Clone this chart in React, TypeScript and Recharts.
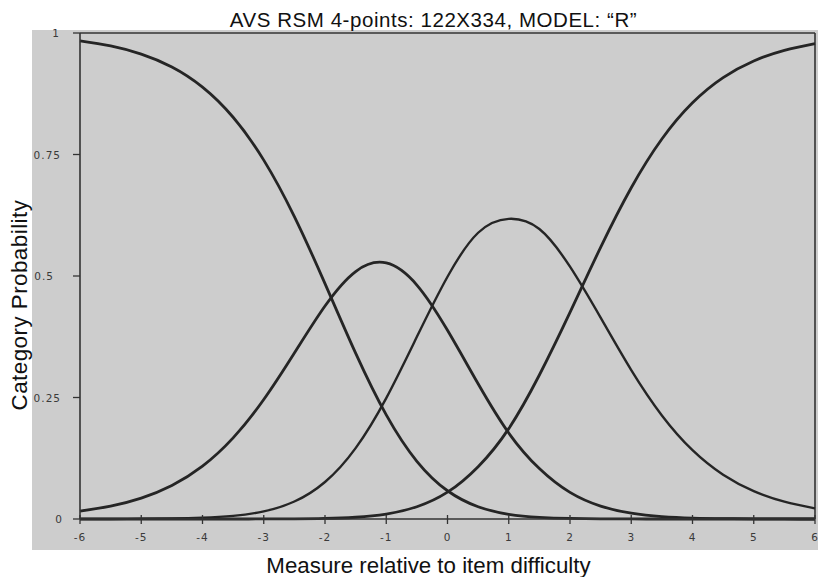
import React from "react";
import { LineChart, Line, XAxis, YAxis, ReferenceLine } from "recharts";

const measures = [-6, -5.5, -5, -4.5, -4, -3.5, -3, -2.5, -2, -1.5, -1, -0.5, 0, 0.5, 1, 1.5, 2, 2.5, 3, 3.5, 4, 4.5, 5, 5.5, 6];
const cat0 = [0.9837, 0.9733, 0.9565, 0.93, 0.8886, 0.8266, 0.7384, 0.6222, 0.4844, 0.3413, 0.2142, 0.1187, 0.0581, 0.0252, 0.0097, 0.0035, 0.0011, 0.0003, 0.0001, 0, 0, 0, 0, 0, 0];
const cat1 = [0.0163, 0.0266, 0.0431, 0.0691, 0.1088, 0.1669, 0.2458, 0.3415, 0.4383, 0.5092, 0.5268, 0.4813, 0.3882, 0.2782, 0.1769, 0.1037, 0.0547, 0.0265, 0.0119, 0.005, 0.002, 0.0008, 0.0003, 0.0001, 0];
const cat2 = [0.0001, 0.0001, 0.0004, 0.001, 0.0026, 0.0065, 0.0157, 0.036, 0.0762, 0.1459, 0.2488, 0.3748, 0.4985, 0.589, 0.6176, 0.5966, 0.5191, 0.4142, 0.3063, 0.2131, 0.1416, 0.0911, 0.0573, 0.0356, 0.0219];
const cat3 = [0, 0, 0, 0, 0, 0, 0.0001, 0.0003, 0.0011, 0.0036, 0.0101, 0.0252, 0.0552, 0.1076, 0.186, 0.2963, 0.425, 0.559, 0.6817, 0.7819, 0.8564, 0.9082, 0.9424, 0.9643, 0.9781];

const xTicks = [-6, -5, -4, -3, -2, -1, 0, 1, 2, 3, 4, 5, 6];
const yTicks = [0, 0.25, 0.5, 0.75, 1];
const yTickLabels: Record<string, string> = { "0": "0", "0.25": "0.25", "0.5": "0.5", "0.75": "0.75", "1": "1" };

const title = "AVS RSM 4-points: 122X334, MODEL: \u201CR\u201D";
const xLabel = "Measure relative to item difficulty";
const yLabel = "Category Probability";

const data = measures.map((m, i) => ({ x: m, c0: cat0[i], c1: cat1[i], c2: cat2[i], c3: cat3[i] }));

const tickFont = { fontFamily: "DejaVu Sans", fontSize: 10.5, fill: "#3a3a3a", letterSpacing: 1 };

const XTick = (props: any) => {
  const { x, y, payload } = props;
  return (
    <g>
      <line x1={x} x2={x} y1={y - 4} y2={y + 5} stroke="#333" strokeWidth={1.3} />
      <text x={x} y={y + 22} textAnchor="middle" {...tickFont}>
        {payload.value}
      </text>
    </g>
  );
};

const yRight: Record<string, number> = { "0": 63, "0.25": 61, "0.5": 54, "0.75": 61, "1": 60 };

const YTick = (props: any) => {
  const { x, y, payload } = props;
  const key = String(payload.value);
  return (
    <g>
      <line x1={x - 7} x2={x} y1={y} y2={y} stroke="#333" strokeWidth={1.3} />
      <text x={yRight[key]} y={y + 4} textAnchor="end" {...tickFont}>
        {yTickLabels[key]}
      </text>
    </g>
  );
};

export default function App() {
  const lineColor = "#252525";
  return (
    <div style={{ position: "absolute", left: 0, top: 0, width: 818, height: 577, background: "#fff", overflow: "hidden" }}>
      <div style={{ position: "absolute", left: 32, top: 30, width: 786, height: 520, background: "#cdcdcd" }} />
      <div style={{ position: "absolute", left: 0, top: 0 }}>
        <LineChart width={818} height={577} data={data} margin={{ top: 33, right: 3, bottom: 0, left: 0 }}>
          <XAxis
            type="number"
            dataKey="x"
            domain={[-6, 6]}
            ticks={xTicks}
            height={58}
            tickSize={0}
            tickMargin={0}
            tickLine={false}
            axisLine={{ stroke: "#333", strokeWidth: 1.6 }}
            tick={(p: any) => <XTick {...p} />}
            interval={0}
          />
          <YAxis
            type="number"
            domain={[0, 1]}
            ticks={yTicks}
            width={80}
            tickSize={0}
            tickMargin={0}
            tickLine={false}
            axisLine={{ stroke: "#333", strokeWidth: 1.6 }}
            tick={(p: any) => <YTick {...p} />}
            interval={0}
          />
          <ReferenceLine y={1} stroke="#333" strokeWidth={1.6} />
          <ReferenceLine x={6} stroke="#333" strokeWidth={1.6} />
          <Line type="natural" dataKey="c0" stroke={lineColor} strokeWidth={2.8} dot={false} isAnimationActive={false} />
          <Line type="natural" dataKey="c1" stroke={lineColor} strokeWidth={2.8} dot={false} isAnimationActive={false} />
          <Line type="natural" dataKey="c2" stroke={lineColor} strokeWidth={2.4} dot={false} isAnimationActive={false} />
          <Line type="natural" dataKey="c3" stroke={lineColor} strokeWidth={2.8} dot={false} isAnimationActive={false} />
        </LineChart>
      </div>
      <svg width={818} height={577} style={{ position: "absolute", left: 0, top: 0, pointerEvents: "none" }}>
        <text x={433.5} y={27.3} textAnchor="middle" fontFamily="Liberation Sans" fontSize={20.5} letterSpacing={0.55} fill="#111">
          {title}
        </text>
        <text x={428.5} y={573} textAnchor="middle" fontFamily="Liberation Sans" fontSize={22.3} fill="#111">
          {xLabel}
        </text>
        <text
          x={0}
          y={0}
          transform="translate(27.3,305) rotate(-90)"
          textAnchor="middle"
          fontFamily="Liberation Sans"
          fontSize={22.3}
          letterSpacing={0.5}
          fill="#111"
        >
          {yLabel}
        </text>
      </svg>
    </div>
  );
}
